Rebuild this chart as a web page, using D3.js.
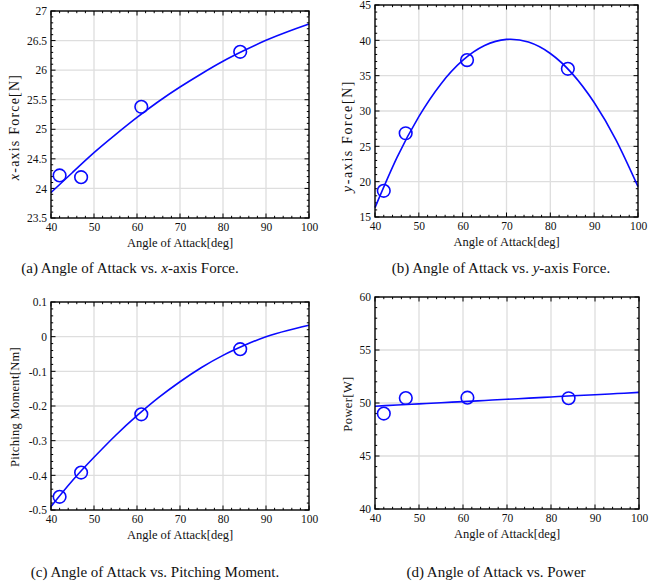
<!DOCTYPE html>
<html><head><meta charset="utf-8">
<script src="https://cdn.jsdelivr.net/npm/d3@7"></script>
<style>
body{margin:0;background:#fff;}
svg{display:block;}
text{font-family:"Liberation Serif","Times New Roman",serif;fill:#111;}
</style></head>
<body><svg id="c" width="665" height="583"></svg>
<script>
// Measured angles of attack (deg)
const angles = [42, 47, 61, 84];
// Measured values
const forceX = [24.22, 24.19, 25.38, 26.31];
const forceY = [18.7, 26.85, 37.2, 35.97];
const moment = [-0.462, -0.392, -0.224, -0.036];
const power = [49.0, 50.47, 50.5, 50.45];
// Fitted curves
const fitAngles = [40, 45, 50, 55, 60, 65, 70, 75, 80, 85, 90, 95, 100];
const fitForceX = [23.93, 24.27, 24.605, 24.91, 25.20, 25.47, 25.715, 25.94, 26.15, 26.335, 26.505, 26.65, 26.78];
const fitForceY = [16.32, 23.39, 29.21, 33.80, 37.15, 39.26, 40.13, 39.75, 38.14, 35.29, 31.20, 25.87, 19.29];
const fitMoment = [-0.49, -0.415, -0.348, -0.285, -0.228, -0.176, -0.130, -0.089, -0.054, -0.025, 0.000, 0.018, 0.033];
const fitPower = [49.7, 49.81, 49.92, 50.03, 50.13, 50.24, 50.35, 50.46, 50.57, 50.68, 50.78, 50.89, 51.0];
// Axis ticks
const xTicks = [40, 50, 60, 70, 80, 90, 100];
const ticksA = [23.5, 24, 24.5, 25, 25.5, 26, 26.5, 27];
const ticksB = [15, 20, 25, 30, 35, 40, 45];
const ticksC = [-0.5, -0.4, -0.3, -0.2, -0.1, 0, 0.1];
const ticksD = [40, 45, 50, 55, 60];
const xLabel = "Angle of Attack[deg]";

const svg = d3.select("#c");
const blue = "#0a0aff";

const panels = [
  {x0:51, x1:309, y0:11, y1:218, yDom:[23.5,27], yTicks:ticksA, yMinor:0.1, ylab:[["x","italic"],["-axis Force[N]","normal"]], fs:14, ls:1.2, labY:127, ys:forceX, fit:fitForceX, labX:19, fmt:d=>String(d)},
  {x0:375, x1:638, y0:5, y1:217, yDom:[15,45], yTicks:ticksB, yMinor:1, ylab:[["y","italic"],["-axis Force[N]","normal"]], fs:14, ls:1.6, labY:136, ys:forceY, fit:fitForceY, labX:352, fmt:d=>String(d)},
  {x0:51, x1:309, y0:302, y1:510, yDom:[-0.5,0.1], yTicks:ticksC, yMinor:0.02, ylab:[["Pitching Moment[Nm]","normal"]], fs:12.5, ls:0.3, labY:407, ys:moment, fit:fitMoment, labX:19, fmt:d=>String(d)},
  {x0:375, x1:639, y0:297, y1:509, yDom:[40,60], yTicks:ticksD, yMinor:1, ylab:[["Power[W]","normal"]], fs:12.5, ls:0.4, labY:404, ys:power, fit:fitPower, labX:352, fmt:d=>String(d)}
];

panels.forEach(p => {
  const x = d3.scaleLinear().domain([40,100]).range([p.x0,p.x1]);
  const y = d3.scaleLinear().domain(p.yDom).range([p.y1,p.y0]);
  const g = svg.append("g");
  // grid
  g.selectAll(".gx").data(xTicks.slice(1,-1)).join("line")
    .attr("x1",d=>x(d)).attr("x2",d=>x(d)).attr("y1",p.y0).attr("y2",p.y1)
    .attr("stroke","#dedede").attr("stroke-width",1.3);
  g.selectAll(".gy").data(p.yTicks.slice(1,-1)).join("line")
    .attr("y1",d=>y(d)).attr("y2",d=>y(d)).attr("x1",p.x0).attr("x2",p.x1)
    .attr("stroke","#dedede").attr("stroke-width",1.3);
  // minor ticks
  const xMin = d3.range(40,100.001,2);
  const yMin = d3.range(p.yDom[0], p.yDom[1]+p.yMinor/2, p.yMinor);
  const tk = g.append("g").attr("stroke","#000").attr("stroke-width",1);
  xMin.forEach(v=>{
    const len = xTicks.includes(Math.round(v))?4.5:2.2;
    tk.append("line").attr("x1",x(v)).attr("x2",x(v)).attr("y1",p.y1).attr("y2",p.y1-len);
    tk.append("line").attr("x1",x(v)).attr("x2",x(v)).attr("y1",p.y0).attr("y2",p.y0+len);
  });
  yMin.forEach((v,i)=>{
    const len = (i%5===0)?4.5:2.2;
    tk.append("line").attr("y1",y(v)).attr("y2",y(v)).attr("x1",p.x0).attr("x2",p.x0+len);
    tk.append("line").attr("y1",y(v)).attr("y2",y(v)).attr("x1",p.x1).attr("x2",p.x1-len);
  });
  // fit line
  g.append("path").datum(fitAngles.map((a,i)=>[a,p.fit[i]]))
    .attr("d", d3.line().x(d=>x(d[0])).y(d=>y(d[1])).curve(d3.curveNatural))
    .attr("fill","none").attr("stroke",blue).attr("stroke-width",1.6);
  // markers
  g.selectAll(".pt").data(angles.map((a,i)=>[a,p.ys[i]])).join("circle")
    .attr("cx",d=>x(d[0])).attr("cy",d=>y(d[1])).attr("r",6.3)
    .attr("fill","none").attr("stroke",blue).attr("stroke-width",1.6);
  // frame
  g.append("rect").attr("x",p.x0).attr("y",p.y0).attr("width",p.x1-p.x0).attr("height",p.y1-p.y0)
    .attr("fill","none").attr("stroke","#000").attr("stroke-width",1.4);
  // axes labels
  const xa = d3.axisBottom(x).tickValues(xTicks).tickSize(0).tickPadding(5);
  const xg = g.append("g").attr("transform",`translate(0,${p.y1})`).call(xa);
  xg.select(".domain").remove();
  xg.selectAll("text").attr("font-size",11.5).attr("font-family","Liberation Serif").attr("fill","#222");
  const ya = d3.axisLeft(y).tickValues(p.yTicks).tickSize(0).tickPadding(4).tickFormat(p.fmt);
  const yg = g.append("g").attr("transform",`translate(${p.x0},0)`).call(ya);
  yg.select(".domain").remove();
  yg.selectAll("text").attr("font-size",11.5).attr("font-family","Liberation Serif").attr("fill","#222");
  g.append("text").attr("x",(p.x0+p.x1)/2).attr("y",p.y1+29).attr("text-anchor","middle")
    .attr("font-size",12.5).attr("fill","#333").text(xLabel);
  const yl = g.append("text").attr("transform",`translate(${p.labX},${p.labY}) rotate(-90)`)
    .attr("text-anchor","middle").attr("font-size",p.fs).attr("letter-spacing",p.ls).attr("fill","#333");
  p.ylab.forEach(s=>yl.append("tspan").attr("font-style",s[1]).text(s[0]));
});

// captions
const captions = [
  {x:130, y:273, parts:[["(a) Angle of Attack vs. ","normal"],["x","italic"],["-axis Force.","normal"]]},
  {x:501, y:273, parts:[["(b) Angle of Attack vs. ","normal"],["y","italic"],["-axis Force.","normal"]]},
  {x:155, y:577, parts:[["(c) Angle of Attack vs. Pitching Moment.","normal"]]},
  {x:496, y:577, parts:[["(d) Angle of Attack vs. Power","normal"]]}
];
captions.forEach(c=>{
  const t = svg.append("text").attr("x",c.x).attr("y",c.y).attr("text-anchor","middle")
    .attr("font-size",15).attr("fill","#000");
  c.parts.forEach(s=>t.append("tspan").attr("font-style",s[1]).text(s[0]));
});
</script></body></html>
